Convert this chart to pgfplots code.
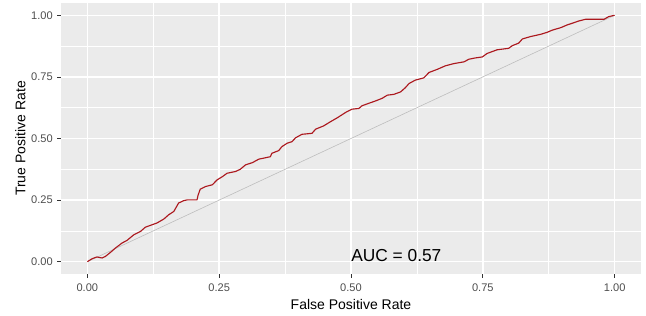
\documentclass[border=0pt]{standalone}
\usepackage{pgfplots}
\pgfplotsset{compat=1.18}
\usepackage{fontspec}
\setmainfont{Liberation Sans}
\definecolor{panelbg}{HTML}{EBEBEB}
\definecolor{tickgray}{HTML}{4D4D4D}
\definecolor{tickmark}{HTML}{333333}
\definecolor{roc}{RGB}{172,24,30}
\definecolor{diag}{HTML}{BDBDBD}
\begin{document}
\begin{tikzpicture}
\path[use as bounding box] (-45.75pt,-31.5pt) rectangle (438.75pt,205.5pt);
\begin{axis}[
  at={(0,0)}, anchor=south west,
  scale only axis,
  width=435pt, height=203.25pt,
  xmin=-0.05, xmax=1.05, ymin=-0.05, ymax=1.05,
  axis background/.style={fill=panelbg},
  axis line style={draw=none},
  xtick={0,0.25,0.5,0.75,1}, ytick={0,0.25,0.5,0.75,1},
  xticklabels={0.00,0.25,0.50,0.75,1.00},
  yticklabels={0.00,0.25,0.50,0.75,1.00},
  minor tick num=1,
  tick pos=lower,
  tick align=outside,
  major tick length=2.75pt,
  minor tick length=0pt,
  tick style={draw=tickmark, line width=0.5pt},
  grid=both,
  major grid style={draw=white, line width=1.1pt},
  minor grid style={draw=white, line width=0.55pt},
  ticklabel style={font=\fontsize{8.3}{9}\selectfont, text=tickgray},
  xticklabel style={anchor=base, inner sep=0pt, yshift=-10.5pt},
  yticklabel style={anchor=east, inner sep=0pt, xshift=-3.3pt},
  xlabel={False Positive Rate},
  ylabel={True Positive Rate},
  label style={font=\fontsize{10.5}{12}\selectfont, text=black},
  xlabel style={at={(axis description cs:0.5,0)}, anchor=base, yshift=-26.5pt, inner sep=0pt},
  ylabel style={at={(axis description cs:-0.0701,0.5)}, anchor=center, inner sep=0pt},
  clip=false,
]
\addplot[diag, line width=0.45pt] coordinates {(0,0) (1,1)};
\addplot[roc, line width=0.85pt, line join=round] coordinates {
(0,0) (0.009,0.012) (0.018,0.019) (0.028,0.015) (0.034,0.021) (0.044,0.038)
(0.053,0.055) (0.066,0.076) (0.075,0.086) (0.088,0.109) (0.101,0.123)
(0.110,0.140) (0.123,0.150) (0.132,0.157) (0.145,0.173) (0.154,0.190)
(0.164,0.204) (0.173,0.238) (0.183,0.248) (0.190,0.251) (0.208,0.251) (0.210,0.270) (0.214,0.294)
(0.224,0.305) (0.237,0.312) (0.246,0.332) (0.256,0.345) (0.265,0.359)
(0.281,0.366) (0.290,0.375) (0.300,0.393) (0.313,0.402) (0.325,0.416)
(0.347,0.426) (0.350,0.440) (0.363,0.451) (0.369,0.467) (0.379,0.481)
(0.388,0.487) (0.395,0.503) (0.407,0.517) (0.426,0.521) (0.433,0.538)
(0.448,0.551) (0.461,0.568) (0.474,0.584) (0.490,0.606) (0.502,0.619)
(0.515,0.622) (0.521,0.633) (0.534,0.643) (0.546,0.652) (0.559,0.663)
(0.569,0.676) (0.581,0.679) (0.594,0.689) (0.603,0.706) (0.610,0.723)
(0.622,0.737) (0.638,0.746) (0.648,0.768) (0.664,0.781) (0.679,0.795)
(0.695,0.804) (0.714,0.811) (0.724,0.822) (0.736,0.827) (0.749,0.831)
(0.758,0.845) (0.777,0.860) (0.799,0.866) (0.806,0.877) (0.818,0.887)
(0.825,0.904) (0.841,0.914) (0.860,0.923) (0.872,0.931) (0.882,0.940)
(0.898,0.950) (0.910,0.961) (0.920,0.968) (0.932,0.977) (0.945,0.984)
(0.980,0.984) (0.989,0.995) (1,1)
};
\node[anchor=base, inner sep=0pt, font=\fontsize{13}{15}\selectfont] at (axis cs:0.586,0) {AUC = 0.57};
\end{axis}
\end{tikzpicture}
\end{document}
